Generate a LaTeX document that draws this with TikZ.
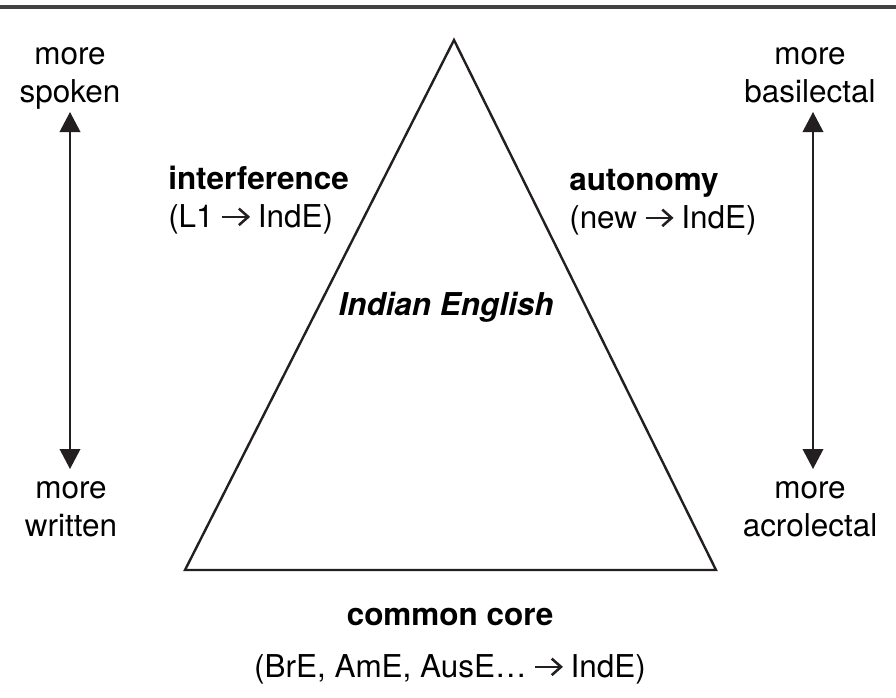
\documentclass[tikz,border=0pt]{standalone}
\usepackage{fontspec}
\setmainfont{TeX Gyre Heros}
\usetikzlibrary{arrows.meta}
\definecolor{ink}{RGB}{35,31,32}
\newcommand{\inarrow}{\tikz[baseline=-7.6pt,line width=1.9pt,line cap=butt,line join=miter,draw=ink]{\useasboundingbox (0,-6pt) rectangle (20pt,6pt); \draw (0,0) -- (19pt,0); \draw (12.3pt,6.2pt) -- (19.3pt,0) -- (12.3pt,-6.2pt);}}
\begin{document}
\begin{tikzpicture}[x=0.75pt,y=-0.75pt,
  lbl/.style={font=\fontsize{23.6}{28.5}\selectfont, align=center, inner sep=0pt, anchor=base, text=black},
  lblL/.style={font=\fontsize{23.6}{28.5}\selectfont, align=left, inner sep=0pt, anchor=base west, text=black},
  ttl/.style={font=\fontsize{23.6}{28.5}\selectfont\bfseries, inner sep=0pt, anchor=base, text=black},
  tri/.style={draw=ink, line width=1.8pt, line join=miter},
  rulestyle/.style={draw=ink!85, line width=2.4pt},
  dbl/.style={draw=ink, line width=1.1pt, {Triangle[length=15pt,width=15.5pt]}-{Triangle[length=15pt,width=15.5pt]}}
]
\useasboundingbox (0,0) rectangle (896,697);
% top rule
\coordinate (r1) at (0,7);
\coordinate (r2) at (896,7);
\draw[rulestyle] (r1) -- (r2);
% triangle
\coordinate (apex) at (454,40);
\coordinate (bl) at (185,570);
\coordinate (br) at (716,570);
\draw[tri] (apex) -- (br) -- (bl) -- cycle;
% left scale (anchor = baseline of last line)
\node[lbl] (spoken) at (70,102) {more\\spoken};
\node[lbl] (written) at (71,536) {more\\written};
\coordinate (lt) at (70,112);
\coordinate (lb) at (70,469);
\draw[dbl] (lb) -- (lt);
% right scale
\node[lbl] (basil) at (810,102) {more\\basilectal};
\node[lbl] (acrol) at (810,536) {more\\acrolectal};
\coordinate (rt) at (813,112);
\coordinate (rb) at (813,469);
\draw[dbl] (rb) -- (rt);
% side labels
\node[lblL] (interf) at (168,227) {\textbf{interference}\\(L1 \inarrow{} IndE)};
\node[lblL] (auton) at (569,228) {\textbf{autonomy}\\(new \inarrow{} IndE)};
% centre
\node[ttl, font=\fontsize{23.6}{28.5}\selectfont\bfseries\itshape] (indian) at (446,315) {Indian English};
\node[ttl] (core) at (450,625) {common core};
\node[lbl] (sources) at (450,677) {(BrE, AmE, AusE… \inarrow{} IndE)};
\end{tikzpicture}
\end{document}
